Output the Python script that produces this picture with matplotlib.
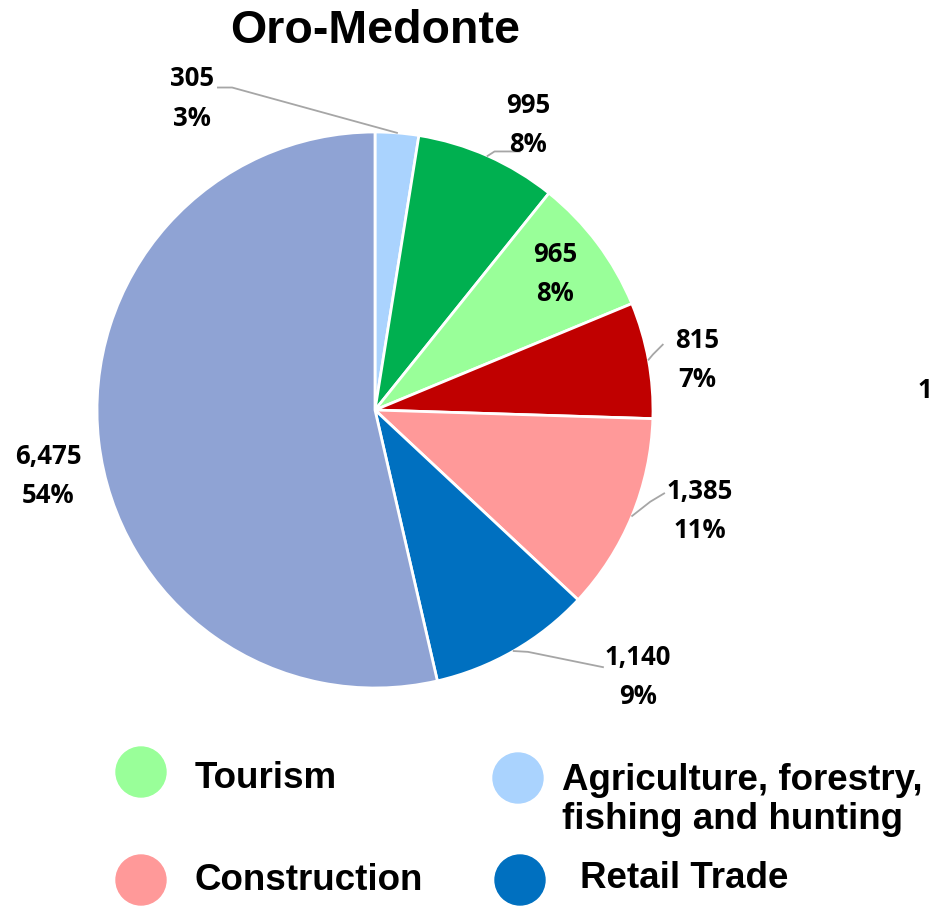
import matplotlib
matplotlib.use('Agg')
import matplotlib.pyplot as plt
from matplotlib.patches import Circle

# данные по секторам (по часовой стрелке, начиная сверху)
values = [305, 995, 965, 815, 1385, 1140, 6475]
colors = ['#AAD3FE', '#00B050', '#99FF99', '#C00000', '#FF9999', '#0070C0', '#8FA3D4']

legend_names = ['Tourism', 'Construction', 'Agriculture, forestry,\nfishing and hunting', 'Retail Trade']
legend_colors = ['#99FF99', '#FF9999', '#AAD3FE', '#0070C0']

W, H = 936, 908
fig = plt.figure(figsize=(W / 100, H / 100), dpi=100)

# круг: центр (375, 410) px, радиус 278 px
cx, cy, r = 375, 410, 278
ax = fig.add_axes([(cx - r) / W, 1 - (cy + r) / H, 2 * r / W, 2 * r / H])
ax.pie(values, colors=colors, startangle=90, counterclock=False, radius=1,
       wedgeprops=dict(edgecolor='white', linewidth=2))
ax.set_xlim(-1, 1)
ax.set_ylim(-1, 1)
ax.set_aspect('equal')

total = sum(values)
# положения подписей (в радиусах)
label_pos = [(-0.658, 1.12), (0.55, 1.025), (0.647, 0.489), (1.158, 0.18),
             (1.169, -0.363), (0.946, -0.96), (-1.176, -0.237)]
# выноски: точка на краю сектора -> точки у подписи
leaders = {
    0: [(0.079, 0.997), (-0.514, 1.16), (-0.565, 1.16)],
    1: [(0.405, 0.914), (0.43, 0.93), (0.52, 0.93)],
    3: [(0.984, 0.181), (1.0, 0.2), (1.035, 0.235)],
    4: [(0.925, -0.381), (0.99, -0.33), (1.04, -0.30)],
    5: [(0.499, -0.867), (0.55, -0.87), (0.82, -0.925)],
}
for i, pts in leaders.items():
    xs, ys = zip(*pts)
    ax.plot(xs, ys, color='#A6A6A6', linewidth=1.3, clip_on=False)

for v, (x, y) in zip(values, label_pos):
    ax.text(x, y, f'{v:,}\n{round(100 * v / total)}%', ha='center', va='center',
            fontsize=18.5, fontweight='bold', family='Open Sans', linespacing=1.6,
            clip_on=False)

fig.text(cx / W, 1 - 31 / H, 'Oro-Medonte', ha='center', va='center', fontsize=33.5,
         fontweight='bold', family='Liberation Sans')

# обрезанная подпись справа
fig.text(932 / W, 1 - 390 / H, '1', ha='right', va='center', fontsize=18.5,
         fontweight='bold', family='Open Sans')

# легенда вручную
lax = fig.add_axes([0, 0, 1, 1], zorder=-1)
lax.set_xlim(0, W)
lax.set_ylim(H, 0)
lax.axis('off')
marker_xy = [(141, 772), (141, 880), (518, 778), (520, 880)]
text_xy = [(195, 778), (195, 881), (562, 800), (580, 879)]
for (mx, my), (tx, ty), name, c in zip(marker_xy, text_xy, legend_names, legend_colors):
    lax.add_patch(Circle((mx, my), 25, color=c))
    lax.text(tx, ty, name, ha='left', va='center', fontsize=26.5, fontweight='bold',
             family='Liberation Sans', linespacing=1.12)

fig.savefig('out.png', dpi=100)
